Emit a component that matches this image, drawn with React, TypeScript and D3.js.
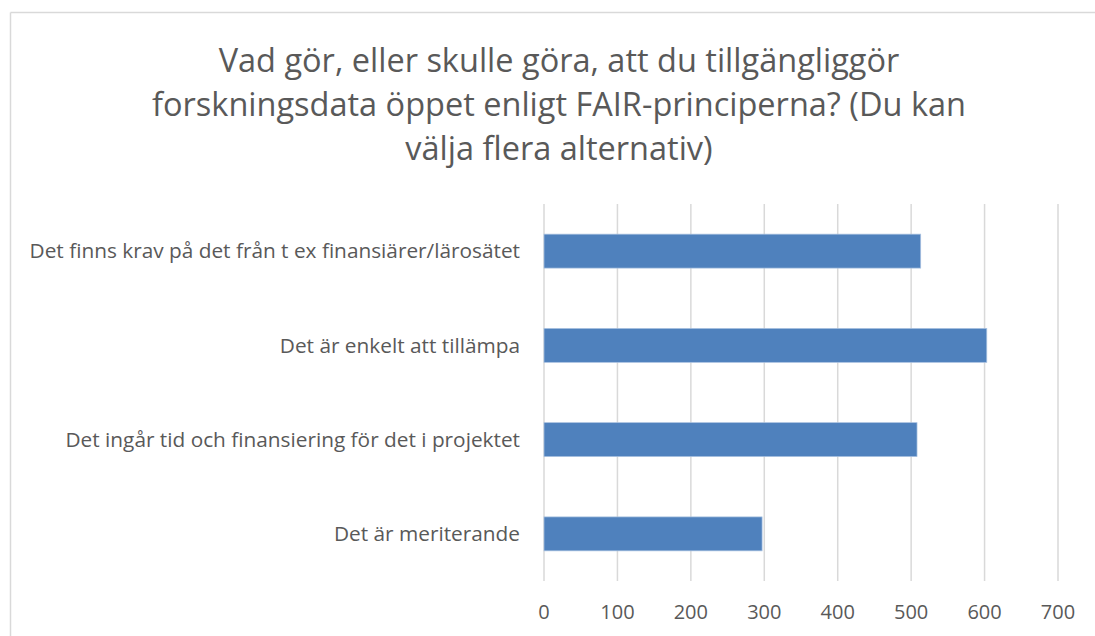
import React from "react";
import * as d3 from "d3";

const categories = [
  "Det finns krav på det från t ex finansiärer/lärosätet",
  "Det är enkelt att tillämpa",
  "Det ingår tid och finansiering för det i projektet",
  "Det är meriterande",
];
const values = [513, 603, 508, 297];
const xTicks = [0, 100, 200, 300, 400, 500, 600, 700];
const titleLines = [
  "Vad gör, eller skulle göra, att du tillgängliggör",
  "forskningsdata öppet enligt FAIR-principerna? (Du kan",
  "välja flera alternativ)",
];

const W = 1095;
const H = 636;
const FONT = "'Open Sans', 'Noto Sans', sans-serif";
const TXT = "#595959";

export default function App() {
  const x = d3.scaleLinear().domain([0, 700]).range([544, 1058]);
  const y = d3
    .scaleBand<string>()
    .domain(categories)
    .range([204, 581])
    .paddingInner(0.64)
    .paddingOuter(0.32);

  return (
    <div style={{ position: "fixed", left: 0, top: 0 }}>
      <svg width={W} height={H} style={{ display: "block", background: "#fff" }}>
        <line x1={10.5} y1={12.5} x2={W} y2={12.5} stroke="#d9d9d9" strokeWidth={1.5} />
        <line x1={10.5} y1={12.5} x2={10.5} y2={H} stroke="#d9d9d9" strokeWidth={1.5} />
        {titleLines.map((t, i) => (
          <text
            key={i}
            x={559}
            y={72 + i * 44}
            textAnchor="middle"
            fontFamily={FONT}
            fontSize={32.5}
            fill={TXT}
          >
            {t}
          </text>
        ))}
        {xTicks.map((t) => (
          <line
            key={"g" + t}
            x1={x(t)}
            x2={x(t)}
            y1={204}
            y2={581}
            stroke="#d9d9d9"
            strokeWidth={1.5}
          />
        ))}
        {categories.map((c, i) => (
          <rect
            key={c}
            x={x(0)}
            y={y(c)!}
            width={x(values[i]) - x(0)}
            height={y.bandwidth()}
            fill="#4f81bd"
            stroke="#a9c1e0"
            strokeWidth={0.75}
          />
        ))}
        {categories.map((c) => (
          <text
            key={"l" + c}
            x={520}
            y={y(c)! + y.bandwidth() / 2}
            dy="0.35em"
            textAnchor="end"
            fontFamily={FONT}
            fontSize={20.8}
            fill={TXT}
          >
            {c}
          </text>
        ))}
        {xTicks.map((t) => (
          <text
            key={"t" + t}
            x={x(t)}
            y={612}
            dy="0.35em"
            textAnchor="middle"
            fontFamily={FONT}
            fontSize={20}
            fill={TXT}
          >
            {t}
          </text>
        ))}
      </svg>
    </div>
  );
}
